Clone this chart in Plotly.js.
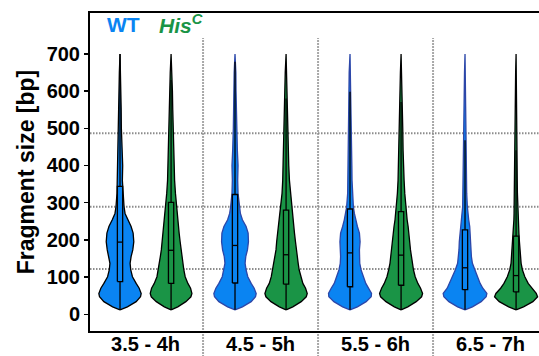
<!DOCTYPE html>
<html><head><meta charset="utf-8">
<script src="https://cdn.plot.ly/plotly-3.0.1.min.js"></script>
<style>html,body{margin:0;padding:0;overflow:hidden;background:#fff}#plot{width:560px;height:356px}</style>
</head><body><div id="plot"></div><script>
// Categories
const groups = ['3.5 - 4h', '4.5 - 5h', '5.5 - 6h', '6.5 - 7h'];
const yTicks = [0, 100, 200, 300, 400, 500, 600, 700];
const refLines = [122, 289, 487];

// Violin density profiles (fragment size levels and relative half-widths)
const densityY = [12,20,34,47,56,70,83,101,119,137,155,173,195,218,236,254,271,289,325,360,400,440,500,550,600,650,700];
const wtDensity1 = [0,22,48,61,63,57,48,37,32,30,33,38,41,39,33,23,15,12,9,7,8,6,4,3.5,3,2,0];
const wtDensity2 = [0,22,48,61,63,57,48,38,33,30,32,37,40,39,33,22,16,13,9,8,9,7,5,4,3,2.5,0];
const wtDensity3 = [0,22,48,63,64,56,47,40,33,29,28,28,30,28,22,17,13,10,7,6,5.5,5,4,3.5,3,2.5,0];
const wtDensity4 = [0,22,48,63,65,53,45,38,29,22,19,18,17,16,14,11,9,7,5,4.5,4,3.5,3,2.5,2,1.5,0];
const hisDensity1 = [0,20,44,59,62,58,50,42,38,35,32,29,27,24,22,20,18,16.5,13,10.5,9,7,6,5,4,2.5,0];
const hisDensity2 = [0,20,45,60,63,58,50,44,39,36,33,30,28,25,23,21,19,17,12,10,8,7,5.5,4.5,3.5,2.5,0];
const hisDensity3 = [0,20,45,61,64,58,50,42,37,33,31,28,26,23,21,18,16,14,11,9,7,6,5,4,3,2,0];
const hisDensity4 = [0,22,50,64,60,46,36,26,19,15,13,11.5,10,8.5,7.5,6.5,6,5,4,3.5,3,2.7,2.3,2,1.7,1.3,0];

// Box statistics
const wtQ1 = [88, 84, 74, 66];
const wtMedian = [194, 185, 165, 125];
const wtQ3 = [344, 322, 283, 227];
const wtLower = [12, 12, 12, 12];
const wtUpper = [700, 679, 598, 468];
const hisQ1 = [83, 81, 78, 60];
const hisMedian = [172, 160, 159, 104];
const hisQ3 = [301, 280, 276, 210];
const hisLower = [12, 12, 12, 12];
const hisUpper = [630, 580, 571, 441];

const wtDens = [wtDensity1, wtDensity2, wtDensity3, wtDensity4];
const hisDens = [hisDensity1, hisDensity2, hisDensity3, hisDensity4];

const BLUE = '#0A84F2', GREEN = '#1A9446';
const FONT = '"Liberation Sans", Arial, Helvetica, sans-serif';
const OFF = 0.222, HALFMAX = 0.19, DMAX = 65, BOXHW = 0.023;
const groupPos = groups.map((g, i) => i + 1);

const traces = [];
function violin(center, dens, fill, edge) {
  const xs = [], ys = [];
  densityY.forEach((y, k) => { xs.push(center + dens[k] / DMAX * HALFMAX); ys.push(y); });
  for (let k = densityY.length - 1; k >= 0; k--) { xs.push(center - dens[k] / DMAX * HALFMAX); ys.push(densityY[k]); }
  traces.push({type: 'scatter', mode: 'lines', x: xs, y: ys, fill: 'toself', fillcolor: fill,
    line: {color: edge, width: 1.3}, hoverinfo: 'skip', showlegend: false});
}
function box(c, q1, med, q3, lo, hi) {
  const l = c - BOXHW, r = c + BOXHW;
  traces.push({type: 'scatter', mode: 'lines',
    x: [c, c, null, c, c, null, l, r, r, l, l, null, l, r],
    y: [lo, q1, null, q3, hi, null, q1, q1, q3, q3, q1, null, med, med],
    line: {color: '#000', width: 1.3}, hoverinfo: 'skip', showlegend: false});
}
groupPos.forEach((p, i) => {
  violin(p - OFF, wtDens[i], BLUE, i === 0 ? '#000' : '#2c46a8');
  violin(p + OFF, hisDens[i], GREEN, '#000');
});
groupPos.forEach((p, i) => {
  box(p - OFF, wtQ1[i], wtMedian[i], wtQ3[i], wtLower[i], wtUpper[i]);
  box(p + OFF, hisQ1[i], hisMedian[i], hisQ3[i], hisLower[i], hisUpper[i]);
});

const shapes = [];
refLines.forEach(v => shapes.push({type: 'line', xref: 'paper', yref: 'y', x0: 0, x1: 1, y0: v, y1: v,
  layer: 'below', line: {color: '#8c8c8c', width: 2, dash: '1.5px,1.5px'}}));
for (let i = 0; i < groupPos.length - 1; i++) {
  const m = (groupPos[i] + groupPos[i + 1]) / 2;
  shapes.push({type: 'line', xref: 'x', yref: 'paper', x0: m, x1: m, y0: -0.1, y1: 0.921,
    layer: 'below', line: {color: '#8c8c8c', width: 2, dash: '1.5px,1.5px'}});
}

const layout = {
  width: 560, height: 356,
  margin: {l: 90, r: 10, t: 13, b: 25},
  paper_bgcolor: '#fff', plot_bgcolor: '#fff',
  showlegend: false, hovermode: false,
  xaxis: {range: [0.517, 4.517], tickvals: groupPos, ticktext: groups, ticks: '',
    ticklabelstandoff: -6,
    showgrid: false, zeroline: false, showline: true, mirror: true, linecolor: '#000', linewidth: 2,
    tickfont: {family: FONT, size: 20, color: '#000', weight: 'bold'}},
  yaxis: {range: [-45, 810], tickvals: yTicks, ticks: 'outside', ticklen: 4, tickwidth: 1.5, tickcolor: '#000',
    showgrid: false, zeroline: false, showline: true, linecolor: '#000', linewidth: 2,
    tickfont: {family: FONT, size: 20, color: '#000', weight: 'bold'},
    title: {text: 'Fragment size [bp]', standoff: 6, font: {family: FONT, size: 23, color: '#000', weight: 'bold'}}},
  shapes: shapes,
  annotations: [
    {xref: 'x', yref: 'paper', x: 0.81, y: 0.964, yanchor: 'middle', text: '<b>WT</b>', showarrow: false,
      font: {family: FONT, size: 21, color: BLUE}},
    {xref: 'x', yref: 'paper', x: 1.1, y: 0.964, xanchor: 'left', yanchor: 'middle', text: '<b><i>His<sup>C</sup></i></b>', showarrow: false,
      font: {family: FONT, size: 21, color: GREEN}}
  ]
};
Plotly.newPlot('plot', traces, layout, {displayModeBar: false, staticPlot: true});
</script></body></html>
